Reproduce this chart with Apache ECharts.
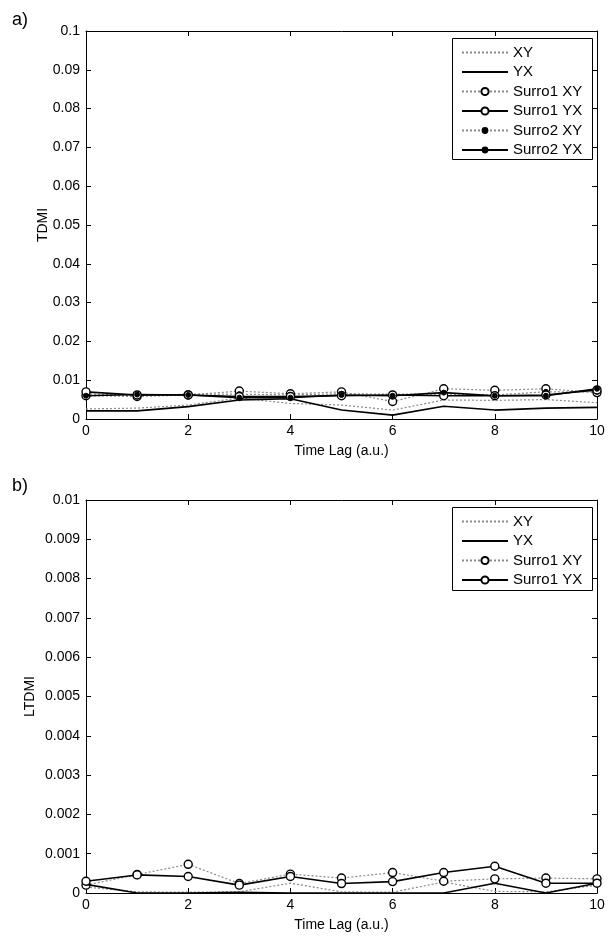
<!DOCTYPE html>
<html><head><meta charset="utf-8">
<script src="https://cdn.jsdelivr.net/npm/echarts@6/dist/echarts.min.js"></script>
<style>html,body{margin:0;padding:0;background:#fff}#c{width:612px;height:944px}</style>
</head><body><div id="c"></div>
<script>
var lags = [0,1,2,3,4,5,6,7,8,9,10];
// Panel a) TDMI
var aXY      = [0.0026,0.0028,0.0036,0.0054,0.0040,0.0036,0.0023,0.0049,0.0048,0.0050,0.0042];
var aYX      = [0.0021,0.0021,0.0032,0.0049,0.0052,0.0023,0.0010,0.0033,0.0023,0.0028,0.0030];
var aS1XY    = [0.0060,0.0058,0.0062,0.0072,0.0065,0.0070,0.0045,0.0078,0.0074,0.0078,0.0068];
var aS1YX    = [0.0070,0.0062,0.0062,0.0058,0.0058,0.0060,0.0062,0.0060,0.0060,0.0062,0.0075];
var aS2XY    = [0.0065,0.0060,0.0064,0.0064,0.0062,0.0065,0.0064,0.0064,0.0062,0.0070,0.0070];
var aS2YX    = [0.0060,0.0063,0.0062,0.0055,0.0055,0.0062,0.0060,0.0068,0.0060,0.0060,0.0078];
// Panel b) LTDMI
var bXY      = [0.00015,0.00003,0.00002,0.00003,0.00025,0.00003,0.00002,0.00028,0.00004,0.00003,0.00020];
var bYX      = [0.00022,0.0,0.0,0.00002,0.0,0.0,0.0,0.0,0.00025,0.0,0.00025];
var bS1XY    = [0.00020,0.00047,0.00073,0.00024,0.00048,0.00038,0.00052,0.00030,0.00036,0.00038,0.00036];
var bS1YX    = [0.00030,0.00046,0.00042,0.00020,0.00042,0.00024,0.00029,0.00052,0.00068,0.00025,0.00025];

var aNames = ['XY','YX','Surro1 XY','Surro1 YX','Surro2 XY','Surro2 YX'];
var bNames = ['XY ','YX ','Surro1 XY ','Surro1 YX '];

var FONT = 'Liberation Sans';
function pairs(v){ return lags.map(function(x,i){ return [x, v[i]]; }); }

function mk(name, data, dotted, marker, xi, yi){
  return {
    name: name, type: 'line', data: pairs(data), xAxisIndex: xi, yAxisIndex: yi,
    showSymbol: marker !== 'none', symbol: marker === 'none' ? 'none' : 'circle',
    symbolSize: marker === 'open' ? 8 : (marker === 'dot' ? 5 : 0),
    lineStyle: dotted ? {color:'#8a8a8a', width:1.2, type:[2,2]} : {color:'#000', width:1.6, type:'solid'},
    itemStyle: marker === 'open' ? {color:'#fff', borderColor:'#000', borderWidth:1.4}
                                 : {color:'#000', borderColor:'#000', borderWidth:1},
    emphasis: {disabled:true}, z: dotted ? 2 : 3
  };
}

var axLabel = {color:'#000', fontFamily:FONT, fontSize:14};
function xAx(gi, pos, showLabels, nameTxt){
  return {type:'value', gridIndex:gi, position:pos, min:0, max:10, interval:2,
    axisLine:{show:true, onZero:false, lineStyle:{color:'#000', width:1}},
    axisTick:{show:true, inside:true, length:5, lineStyle:{color:'#000'}},
    axisLabel: showLabels ? Object.assign({margin:5}, axLabel) : {show:false},
    splitLine:{show:false},
    name: nameTxt || '', nameLocation:'middle', nameGap:25, nameMoveOverlap:false,
    nameTextStyle:{color:'#000', fontFamily:FONT, fontSize:14}};
}
function yAx(gi, pos, max, interval, showLabels, nameTxt, gap){
  return {type:'value', gridIndex:gi, position:pos, min:0, max:max, interval:interval,
    axisLine:{show:true, onZero:false, lineStyle:{color:'#000', width:1}},
    axisTick:{show:true, inside:true, length:5, lineStyle:{color:'#000'}},
    axisLabel: showLabels ? Object.assign({margin:6, formatter:fmt}, axLabel) : {show:false},
    splitLine:{show:false},
    name: nameTxt || '', nameLocation:'middle', nameGap:gap || 36, nameRotate:90, nameMoveOverlap:false,
    nameTextStyle:{color:'#000', fontFamily:FONT, fontSize:14}};
}
function fmt(v){ return String(parseFloat(v.toFixed(6))); }

// legend rows: one legend component per row so marker sizes can match
var markerKind = {'XY':'none','YX':'none','Surro1 XY':'open','Surro1 YX':'open','Surro2 XY':'dot','Surro2 YX':'dot'};
function legendRow(name, y){
  var k = markerKind[name.trim()];
  var ih = k === 'open' ? 9 : (k === 'dot' ? 6 : 0.01);
  return {orient:'vertical', left:461, top:y, padding:0, itemGap:0,
    itemWidth:46, itemHeight:ih, z:10, selectedMode:false,
    textStyle:{fontFamily:FONT, fontSize:15, color:'#000'},
    formatter:function(n){return n.trim();},
    data:[name]};
}
var legends = [];
aNames.forEach(function(n,i){ legends.push(legendRow(n, 45 + i*19.5)); });
bNames.forEach(function(n,i){ legends.push(legendRow(n, 514 + i*19.5)); });

var chart = echarts.init(document.getElementById('c'), null, {renderer:'canvas'});
chart.setOption({
  animation:false,
  backgroundColor:'#fff',
  title:[
    {text:'a)', left:7, top:6, textStyle:{fontFamily:FONT, fontSize:18, fontWeight:'normal', color:'#000'}},
    {text:'b)', left:7, top:472, textStyle:{fontFamily:FONT, fontSize:18, fontWeight:'normal', color:'#000'}}
  ],
  grid:[
    {left:86, top:31, width:511, height:388},
    {left:86, top:500, width:511, height:393}
  ],
  xAxis:[
    xAx(0,'bottom',true,'Time Lag (a.u.)'), xAx(0,'top',false),
    xAx(1,'bottom',true,'Time Lag (a.u.)'), xAx(1,'top',false)
  ],
  yAxis:[
    yAx(0,'left',0.1,0.01,true,'TDMI',36), yAx(0,'right',0.1,0.01,false),
    yAx(1,'left',0.01,0.001,true,'LTDMI',49), yAx(1,'right',0.01,0.001,false)
  ],
  graphic:[
    {type:'rect', z:8, shape:{x:452.5, y:38.5, width:140, height:121}, style:{fill:'#fff', stroke:'#000', lineWidth:1}},
    {type:'rect', z:8, shape:{x:452.5, y:507.5, width:140, height:83}, style:{fill:'#fff', stroke:'#000', lineWidth:1}}
  ],
  legend: legends,
  series:[
    mk('XY', aXY, true, 'none', 0, 0),
    mk('YX', aYX, false, 'none', 0, 0),
    mk('Surro1 XY', aS1XY, true, 'open', 0, 0),
    mk('Surro1 YX', aS1YX, false, 'open', 0, 0),
    mk('Surro2 XY', aS2XY, true, 'dot', 0, 0),
    mk('Surro2 YX', aS2YX, false, 'dot', 0, 0),
    mk('XY ', bXY, true, 'none', 2, 2),
    mk('YX ', bYX, false, 'none', 2, 2),
    mk('Surro1 XY ', bS1XY, true, 'open', 2, 2),
    mk('Surro1 YX ', bS1YX, false, 'open', 2, 2)
  ]
});
</script>
</body></html>
